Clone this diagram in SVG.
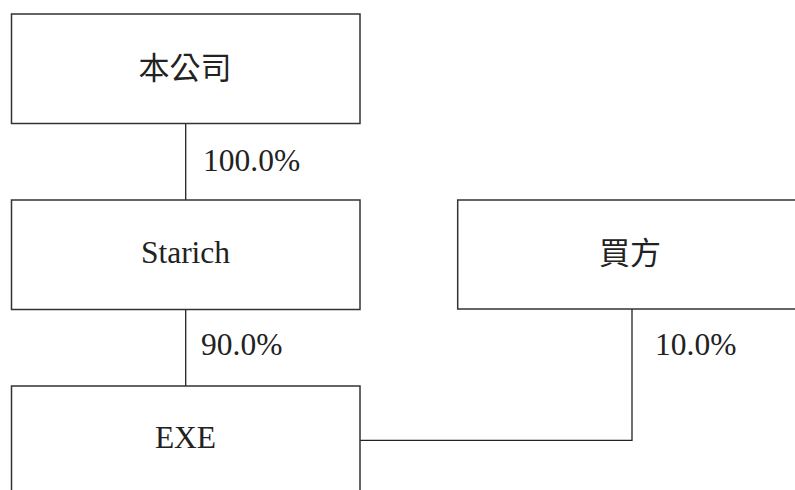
<svg xmlns="http://www.w3.org/2000/svg" width="795" height="490" viewBox="0 0 795 490">
<style>
.box{fill:#fff;stroke:#333;stroke-width:1.5}
.ln{fill:none;stroke:#222;stroke-width:1.3}
.t{font-family:"Liberation Serif","Noto Sans CJK TC",serif;font-size:31.5px;fill:#222}
.c{text-anchor:middle}
.cjk{font-size:31px}
</style>
<rect width="795" height="490" fill="#fff"/>
<g id="connectors">
<line class="ln" x1="185.7" y1="124" x2="185.7" y2="200"/>
<line class="ln" x1="185.7" y1="310" x2="185.7" y2="386"/>
<polyline class="ln" points="632,309 632,440.3 360,440.3"/>
<text class="t" x="203" y="171">100.0%</text>
<text class="t" x="201" y="355">90.0%</text>
<text class="t" x="655" y="355">10.0%</text>
</g>
<g id="node-company">
<rect class="box" x="11.5" y="14" width="348.5" height="109.5"/>
<text class="t c cjk" x="185" y="79">本公司</text>
</g>
<g id="node-starich">
<rect class="box" x="11.5" y="200" width="348.5" height="109.5"/>
<text class="t c" x="185.5" y="263">Starich</text>
</g>
<g id="node-buyer">
<rect class="box" x="457.7" y="200" width="360" height="109"/>
<text class="t c cjk" x="630" y="264">買方</text>
</g>
<g id="node-exe">
<rect class="box" x="11.5" y="386" width="348.5" height="120"/>
<text class="t c" x="185.5" y="448">EXE</text>
</g>
</svg>
